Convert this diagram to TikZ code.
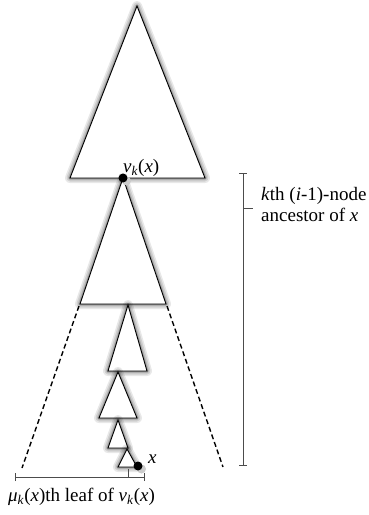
\documentclass[tikz,border=0pt]{standalone}
\usepackage{fontspec}
\setmainfont{Liberation Serif}
\begin{document}
\begin{tikzpicture}[x=1pt,y=-1pt,
  tri/.style={draw=black, fill=white, line width=0.9pt, line join=miter},
  dotnode/.style={circle, fill=black, inner sep=0pt, minimum size=9pt},
  dotshade/.style={circle, fill=black!20, inner sep=0pt, minimum size=9pt},
  bar/.style={draw=black!70, line width=0.9pt},
  dashline/.style={draw=black, line width=1.4pt, dash pattern=on 5pt off 3pt},
  lbl/.style={inner sep=0pt, font=\rmfamily\fontsize{19}{22}\selectfont},
]
\useasboundingbox (0,0) rectangle (368,515);
\newcommand{\trishadow}[3]{%
  \foreach \w/\o in {10/0.09,7/0.11,4/0.14,2/0.18}{%
    \path[fill=black, draw=black, opacity=\o, line width=\w pt, line join=round, shift={(1.5,4)}] #1 -- #2 -- #3 -- cycle;}}
% coordinates
\coordinate (t1a) at (137,6);   \coordinate (t1b) at (70,178);  \coordinate (t1c) at (205,178);
\coordinate (t2a) at (123,178); \coordinate (t2b) at (80,304);  \coordinate (t2c) at (166,304);
\coordinate (t3a) at (128,305); \coordinate (t3b) at (108,371); \coordinate (t3c) at (147,371);
\coordinate (t4a) at (118,372); \coordinate (t4b) at (99,418);  \coordinate (t4c) at (137,418);
\coordinate (t5a) at (118,420); \coordinate (t5b) at (108,448); \coordinate (t5c) at (128,448);
\coordinate (t6a) at (127,449); \coordinate (t6b) at (118,467); \coordinate (t6c) at (137,467);
% dashed lines
\coordinate (dl1) at (79,306);  \coordinate (dl2) at (22,468);
\coordinate (dr1) at (167,306); \coordinate (dr2) at (223,467);
\draw[dashline] (dl1) -- (dl2);
\draw[dashline] (dr1) -- (dr2);
% triangles
\trishadow{(t1a)}{(t1b)}{(t1c)}
\draw[tri] (t1a) -- (t1b) -- (t1c) -- cycle;
\trishadow{(t2a)}{(t2b)}{(t2c)}
\draw[tri] (t2a) -- (t2b) -- (t2c) -- cycle;
\trishadow{(t3a)}{(t3b)}{(t3c)}
\draw[tri] (t3a) -- (t3b) -- (t3c) -- cycle;
\trishadow{(t4a)}{(t4b)}{(t4c)}
\draw[tri] (t4a) -- (t4b) -- (t4c) -- cycle;
\trishadow{(t5a)}{(t5b)}{(t5c)}
\draw[tri] (t5a) -- (t5b) -- (t5c) -- cycle;
\trishadow{(t6a)}{(t6b)}{(t6c)}
\draw[tri] (t6a) -- (t6b) -- (t6c) -- cycle;
% dots
\node[dotshade] (vks) at (126.5,181) {};
\node[dotnode] (vk) at (123,178) {};
\node[dotshade] (xs) at (141.5,469) {};
\node[dotnode] (xd) at (138,466) {};
% labels
\node[lbl, anchor=base west] (vklbl) at (123,172) {\textit{ν}\textsubscript{\textit{k}}(\textit{x})};
\node[lbl, anchor=base west] (xlbl) at (148,463) {\textit{x}};
% bottom bar
\coordinate (bl) at (15,477); \coordinate (br) at (144,477); \coordinate (bm) at (128,477);
\draw[bar] (bl) -- (br);
\draw[bar] ([yshift=-4]bl) -- ([yshift=4]bl);
\draw[bar] ([yshift=-4]br) -- ([yshift=4]br);
\draw[bar] (bm) -- ([yshift=8]bm);
\node[lbl, anchor=base west] (leaflbl) at (8,501) {\textit{μ}\textsubscript{\textit{k}}(\textit{x})th leaf of \textit{ν}\textsubscript{\textit{k}}(\textit{x})};
% right bar
\coordinate (rt) at (243,173); \coordinate (rb) at (243,465); \coordinate (rm) at (243,208);
\draw[bar] (rt) -- (rb);
\draw[bar] ([xshift=-4]rt) -- ([xshift=4]rt);
\draw[bar] ([xshift=-4]rb) -- ([xshift=4]rb);
\draw[bar] (rm) -- ([xshift=10]rm);
\node[lbl, anchor=base west] (anc1) at (261,200) {\textit{k}th (\textit{i}-1)-node};
\node[lbl, anchor=base west] (anc2) at (261,221) {ancestor of \textit{x}};
\end{tikzpicture}
\end{document}
